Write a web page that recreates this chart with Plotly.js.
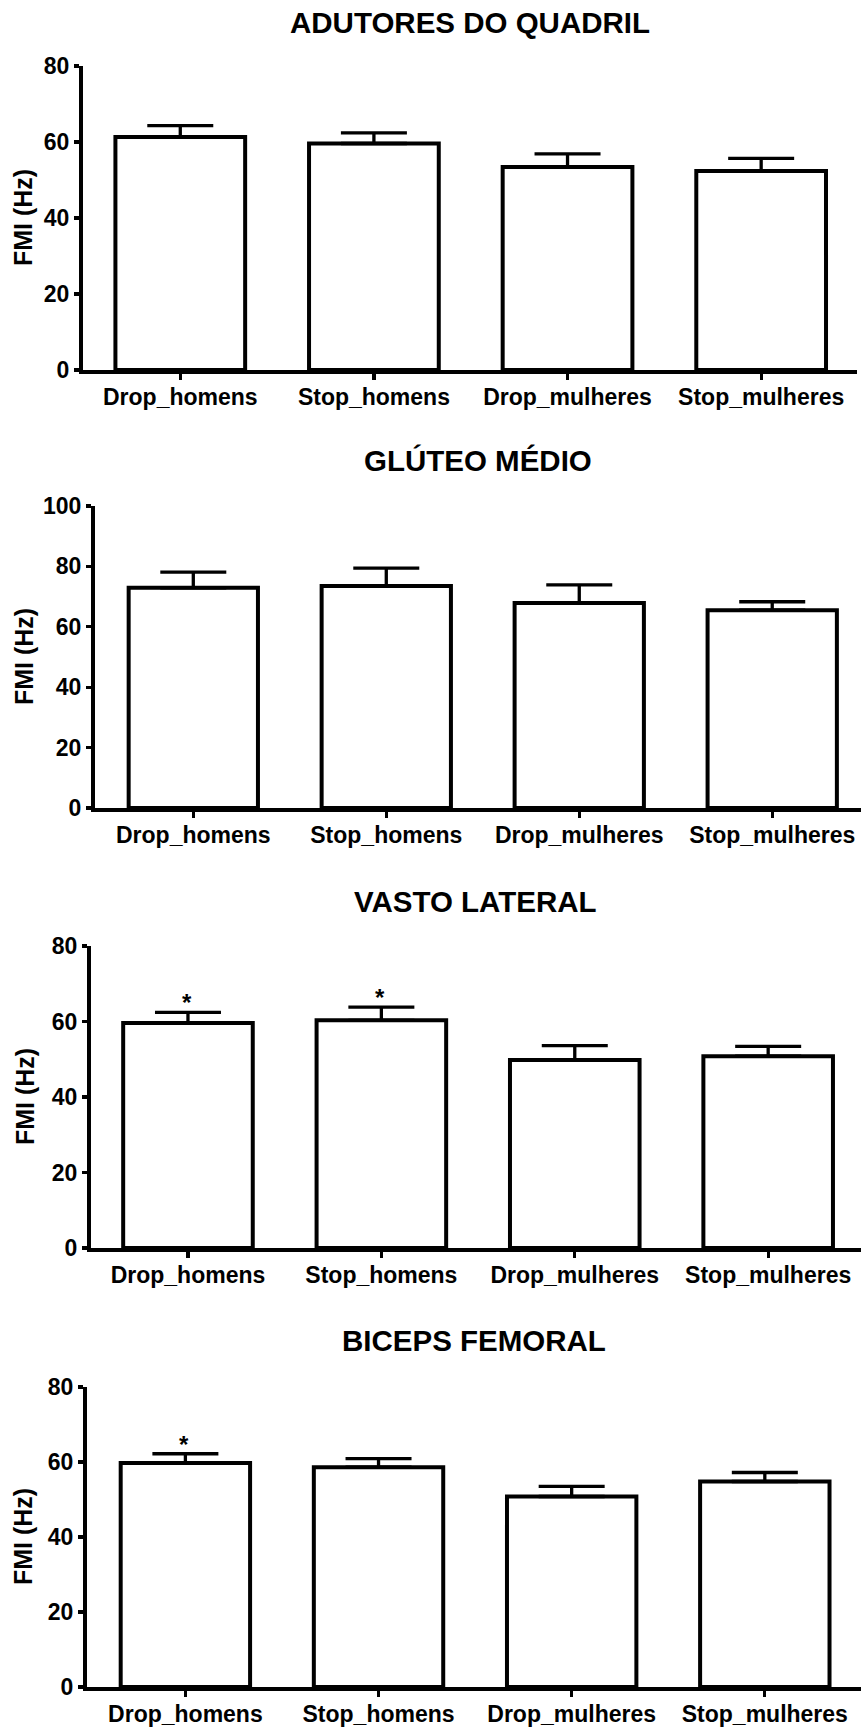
<!DOCTYPE html>
<html>
<head>
<meta charset="utf-8">
<script src="https://cdn.plot.ly/plotly-3.0.1.min.js"></script>
<style>html,body{margin:0;padding:0;background:#fff;}#chart{width:861px;height:1728px;}</style>
</head>
<body>
<div id="chart"></div>
<script>
// ---- data ----
const categories = ['Drop_homens', 'Stop_homens', 'Drop_mulheres', 'Stop_mulheres'];
const panelTitles = ['ADUTORES DO QUADRIL', 'GLÚTEO MÉDIO', 'VASTO LATERAL', 'BICEPS FEMORAL'];
const yAxisLabel = 'FMI (Hz)';

const adutoresMean = [61.3, 59.6, 53.4, 52.4];
const adutoresSEM  = [3.0, 2.8, 3.5, 3.3];

const gluteoMean = [72.9, 73.5, 67.9, 65.5];
const gluteoSEM  = [5.2, 5.9, 6.0, 2.8];

const vastoMean = [59.6, 60.3, 49.8, 50.8];
const vastoSEM  = [2.8, 3.5, 3.8, 2.6];

const bicepsMean = [59.7, 58.6, 50.8, 54.8];
const bicepsSEM  = [2.5, 2.3, 2.7, 2.4];

const yTicksA = [0, 20, 40, 60, 80];
const yTicksB = [0, 20, 40, 60, 80, 100];

// significance markers
const vastoStars  = ['Drop_homens', 'Stop_homens'];
const bicepsStars = ['Drop_homens'];

// ---- layout geometry (pixels) ----
const W = 861, H = 1728;
const FONT = 'Liberation Sans, Arial, Helvetica, sans-serif';
const panels = [
  {mean: adutoresMean, sem: adutoresSEM, ticks: yTicksA, ymax: 80,  left: 82.5, right: 857, bottom: 370, top: 66,   xr: [-0.505, 3.495], titleY: 22,   labX: 23, stars: []},
  {mean: gluteoMean,   sem: gluteoSEM,   ticks: yTicksB, ymax: 100, left: 94.5, right: 861, bottom: 808, top: 506,  xr: [-0.512, 3.46],  titleY: 460,  labX: 24, stars: []},
  {mean: vastoMean,    sem: vastoSEM,    ticks: yTicksA, ymax: 80,  left: 90.5, right: 861, bottom: 1248, top: 946, xr: [-0.504, 3.48],  titleY: 901,  labX: 25, stars: vastoStars},
  {mean: bicepsMean,   sem: bicepsSEM,   ticks: yTicksA, ymax: 80,  left: 86.5, right: 861, bottom: 1687, top: 1387, xr: [-0.512, 3.498], titleY: 1340, labX: 23, stars: bicepsStars}
];

const traces = [];
const layout = {
  width: W, height: H,
  margin: {l: 0, r: 0, t: 0, b: 0, pad: 0},
  paper_bgcolor: '#fff', plot_bgcolor: 'rgba(0,0,0,0)',
  showlegend: false,
  font: {family: FONT, color: '#000', size: 23, weight: 'bold'},
  annotations: []
};

panels.forEach((p, i) => {
  const n = i === 0 ? '' : String(i + 1);
  const xa = 'x' + n, ya = 'y' + n;
  const caps = p.mean.map((m, k) => m + p.sem[k]);
  traces.push({
    type: 'bar', x: categories, y: p.mean, xaxis: xa, yaxis: ya,
    width: 0.67,
    marker: {color: '#ffffff', line: {color: '#000', width: 4}},
    error_y: {type: 'data', symmetric: false, array: p.sem, arrayminus: p.mean.map(() => 0),
              color: '#000', thickness: 3.3, width: 33},
    hoverinfo: 'skip'
  });
  layout['xaxis' + n] = {
    anchor: ya, domain: [p.left / W, p.right / W], type: 'category', range: p.xr,
    showline: true, linewidth: 4, linecolor: '#000', showgrid: false, zeroline: false,
    ticks: 'outside', ticklen: 6, tickwidth: 3.3, tickcolor: '#000', ticklabelstandoff: -3,
    tickfont: {family: FONT, size: 23, color: '#000', weight: 'bold'}, fixedrange: true
  };
  layout['yaxis' + n] = {
    anchor: xa, domain: [1 - p.bottom / H, 1 - p.top / H], range: [0, p.ymax],
    tickvals: p.ticks, showline: true, linewidth: 3.5, linecolor: '#000',
    showgrid: false, zeroline: false,
    ticks: 'outside', ticklen: 5, tickwidth: 3.3, tickcolor: '#000',
    tickfont: {family: FONT, size: 23, color: '#000', weight: 'bold'}, fixedrange: true
  };
  layout.annotations.push({
    xref: 'paper', yref: 'paper', x: (p.left + p.right) / 2 / W, y: 1 - p.titleY / H,
    xanchor: 'center', yanchor: 'middle', showarrow: false, text: panelTitles[i],
    font: {family: FONT, size: 29.5, color: '#000', weight: 'bold'}
  });
  layout.annotations.push({
    xref: 'paper', yref: 'paper', x: p.labX / W, y: 1 - (p.top + p.bottom) / 2 / H,
    xanchor: 'center', yanchor: 'middle', textangle: -90, showarrow: false, text: yAxisLabel,
    font: {family: FONT, size: 25, color: '#000', weight: 'bold'}
  });
  p.stars.forEach(c => {
    const k = categories.indexOf(c);
    layout.annotations.push({
      xref: xa, yref: ya, x: c, y: caps[k], xanchor: 'center', yanchor: 'bottom',
      showarrow: false, text: '*', yshift: -6, xshift: -1,
      font: {family: FONT, size: 24, color: '#000', weight: 'bold'}
    });
  });
});

Plotly.newPlot('chart', traces, layout, {staticPlot: true, displayModeBar: false});
</script>
</body>
</html>
